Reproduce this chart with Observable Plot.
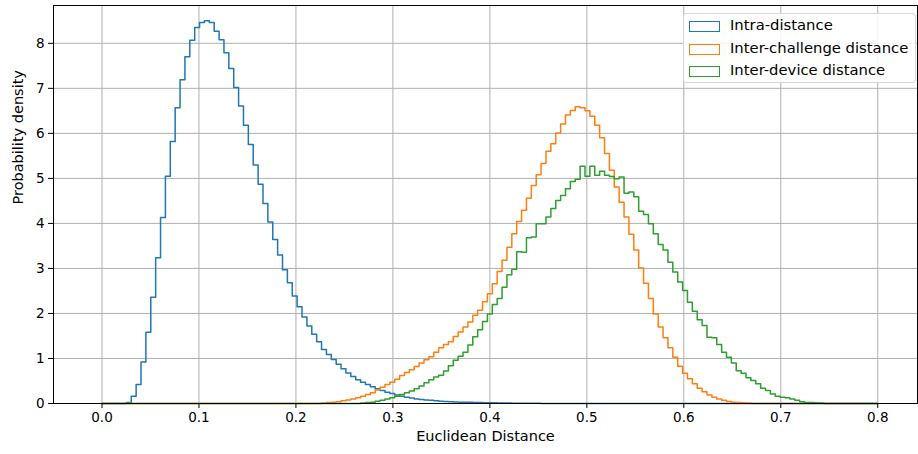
<!DOCTYPE html>
<html>
<head>
<meta charset="utf-8">
<script src="https://cdn.jsdelivr.net/npm/d3@7"></script>
<script src="https://cdn.jsdelivr.net/npm/@observablehq/plot@0.6"></script>
<style>
  html, body { margin: 0; padding: 0; background: #fff; }
  #wrap { position: relative; width: 918px; height: 454px; font-family: "DejaVu Sans", sans-serif; }
  #legend { position: absolute; left: 683px; top: 13px; width: 233px; height: 70px; box-sizing: border-box;
            border: 1px solid #d6d6d6; border-radius: 3px; background: rgba(255,255,255,0.85); }
  .item { position: absolute; left: 0; height: 20px; width: 100%; }
  .patch { position: absolute; left: 5px; top: 4px; width: 29px; height: 9px; border: 1.5px solid; background: transparent; }
  .lab { position: absolute; left: 46px; top: -2px; font-size: 14.8px; color: #000; white-space: nowrap; line-height: 20px; }
</style>
</head>
<body>
<div id="wrap"></div>
<script>
// Histogram bins (numpy linspace(0, 0.8, 160) -> 159 bins)
const binLo = 0, binHi = 0.8, binCount = 159;
const seriesNames = ["Intra-distance", "Inter-challenge distance", "Inter-device distance"];
const seriesColors = ["#1f77b4", "#ff7f0e", "#2ca02c"];

// first non-zero bin index for each series
const intraStart = 5;
const interChallengeStart = 45;
const interDeviceStart = 53;

const intraDensity = [
  0.02, 0.16, 0.42, 0.92, 1.58, 2.36, 3.24, 4.13, 5.05, 5.82,
  6.57, 7.19, 7.70, 8.07, 8.35, 8.46, 8.50, 8.46, 8.27, 8.08,
  7.79, 7.44, 7.02, 6.61, 6.18, 5.75, 5.30, 4.87, 4.44, 4.03,
  3.64, 3.30, 2.97, 2.68, 2.39, 2.15, 1.92, 1.72, 1.54, 1.37,
  1.20, 1.09, 0.98, 0.87, 0.77, 0.68, 0.60, 0.53, 0.47, 0.42,
  0.37, 0.33, 0.29, 0.25, 0.22, 0.19, 0.16, 0.14, 0.12, 0.10,
  0.09, 0.08, 0.07, 0.06, 0.05, 0.045, 0.04, 0.035, 0.03, 0.028,
  0.025, 0.022, 0.02, 0.018, 0.016, 0.014, 0.012, 0.01, 0.009, 0.008,
  0.007, 0.006, 0.005, 0.004, 0.003, 0.002
];

const interChallengeDensity = [
  0.01, 0.02, 0.03, 0.04, 0.06, 0.08, 0.10, 0.13, 0.16, 0.20,
  0.24, 0.30, 0.36, 0.42, 0.47, 0.54, 0.62, 0.69, 0.75, 0.82,
  0.90, 0.97, 1.04, 1.14, 1.24, 1.31, 1.37, 1.49, 1.59, 1.70,
  1.81, 1.96, 2.07, 2.26, 2.44, 2.66, 2.93, 3.18, 3.47, 3.77,
  4.04, 4.29, 4.56, 4.84, 5.08, 5.33, 5.60, 5.77, 6.01, 6.21,
  6.41, 6.51, 6.59, 6.57, 6.50, 6.38, 6.18, 5.90, 5.55, 5.18,
  4.81, 4.47, 4.14, 3.76, 3.41, 3.01, 2.67, 2.33, 1.99, 1.70,
  1.46, 1.24, 1.03, 0.83, 0.67, 0.55, 0.44, 0.34, 0.26, 0.19,
  0.14, 0.10, 0.07, 0.045, 0.03, 0.02, 0.015, 0.01
];

const interDeviceDensity = [
  0.01, 0.02, 0.03, 0.05, 0.07, 0.10, 0.13, 0.16, 0.20, 0.24,
  0.28, 0.33, 0.39, 0.46, 0.53, 0.59, 0.63, 0.72, 0.84, 0.96,
  1.05, 1.14, 1.30, 1.48, 1.64, 1.82, 1.99, 2.20, 2.33, 2.58,
  2.86, 2.98, 3.37, 3.36, 3.68, 3.70, 3.99, 3.99, 4.14, 4.33,
  4.51, 4.62, 4.77, 4.93, 4.98, 5.27, 5.05, 5.27, 5.07, 5.16,
  5.07, 5.04, 4.99, 5.03, 4.67, 4.70, 4.59, 4.27, 4.20, 3.99,
  3.77, 3.53, 3.41, 3.14, 2.92, 2.70, 2.51, 2.25, 2.05, 1.86,
  1.73, 1.47, 1.46, 1.31, 1.14, 1.03, 0.90, 0.73, 0.67, 0.57,
  0.51, 0.44, 0.34, 0.29, 0.21, 0.16, 0.14, 0.13, 0.10, 0.07,
  0.04, 0.02, 0.02, 0.015, 0.01
];

const xTicks = [0, 0.1, 0.2, 0.3, 0.4, 0.5, 0.6, 0.7, 0.8];
const yTicks = [0, 1, 2, 3, 4, 5, 6, 7, 8];
const xLabel = "Euclidean Distance";
const yLabel = "Probability density";

// Build step outline points (matplotlib histtype="step")
const binWidth = (binHi - binLo) / binCount;
function stepOutline(name, start, values) {
  const full = new Array(binCount).fill(0);
  values.forEach((v, i) => { full[start + i] = v; });
  const pts = [{x: binLo, y: 0, s: name}];
  full.forEach((v, k) => pts.push({x: binLo + k * binWidth, y: v, s: name}));
  pts.push({x: binHi, y: 0, s: name});
  return pts;
}
const outline = [
  ...stepOutline(seriesNames[0], intraStart, intraDensity),
  ...stepOutline(seriesNames[1], interChallengeStart, interChallengeDensity),
  ...stepOutline(seriesNames[2], interDeviceStart, interDeviceDensity)
];

const chart = Plot.plot({
  width: 918,
  height: 454,
  marginLeft: 53,
  marginRight: 1,
  marginTop: 5,
  marginBottom: 51,
  style: {fontFamily: "DejaVu Sans", fontSize: "13px", color: "#000", background: "#fff"},
  x: {domain: [-0.05, 0.841]},
  y: {domain: [0, 8.84]},
  color: {domain: seriesNames, range: seriesColors},
  marks: [
    Plot.gridX(xTicks, {stroke: "#b0b0b0", strokeOpacity: 1, strokeWidth: 1}),
    Plot.gridY(yTicks, {stroke: "#b0b0b0", strokeOpacity: 1, strokeWidth: 1}),
    Plot.line(outline, {x: "x", y: "y", z: "s", stroke: "s", curve: "step-after", strokeWidth: 1.5}),
    Plot.frame({stroke: "#000", strokeWidth: 1}),
    Plot.axisX(xTicks, {tickSize: 5, tickPadding: 4, tickFormat: d3.format(".1f"), label: null, fontSize: 13.5}),
    Plot.axisY(yTicks, {tickSize: 5, tickPadding: 4, tickFormat: d3.format("d"), label: null, fontSize: 13.5}),
    Plot.text([xLabel], {text: d => d, frameAnchor: "bottom", dy: 37, fontSize: 14.5, fill: "#000"}),
    Plot.text([yLabel], {text: d => d, frameAnchor: "left", dx: -35, rotate: -90, fontSize: 14.5, fill: "#000"})
  ]
});

const wrap = document.getElementById("wrap");
wrap.appendChild(chart);

const legend = document.createElement("div");
legend.id = "legend";
seriesNames.forEach((name, i) => {
  const item = document.createElement("div");
  item.className = "item";
  item.style.top = (3 + i * 22.5) + "px";
  const patch = document.createElement("div");
  patch.className = "patch";
  patch.style.borderColor = seriesColors[i];
  const lab = document.createElement("div");
  lab.className = "lab";
  lab.textContent = name;
  item.appendChild(patch);
  item.appendChild(lab);
  legend.appendChild(item);
});
wrap.appendChild(legend);
</script>
</body>
</html>
